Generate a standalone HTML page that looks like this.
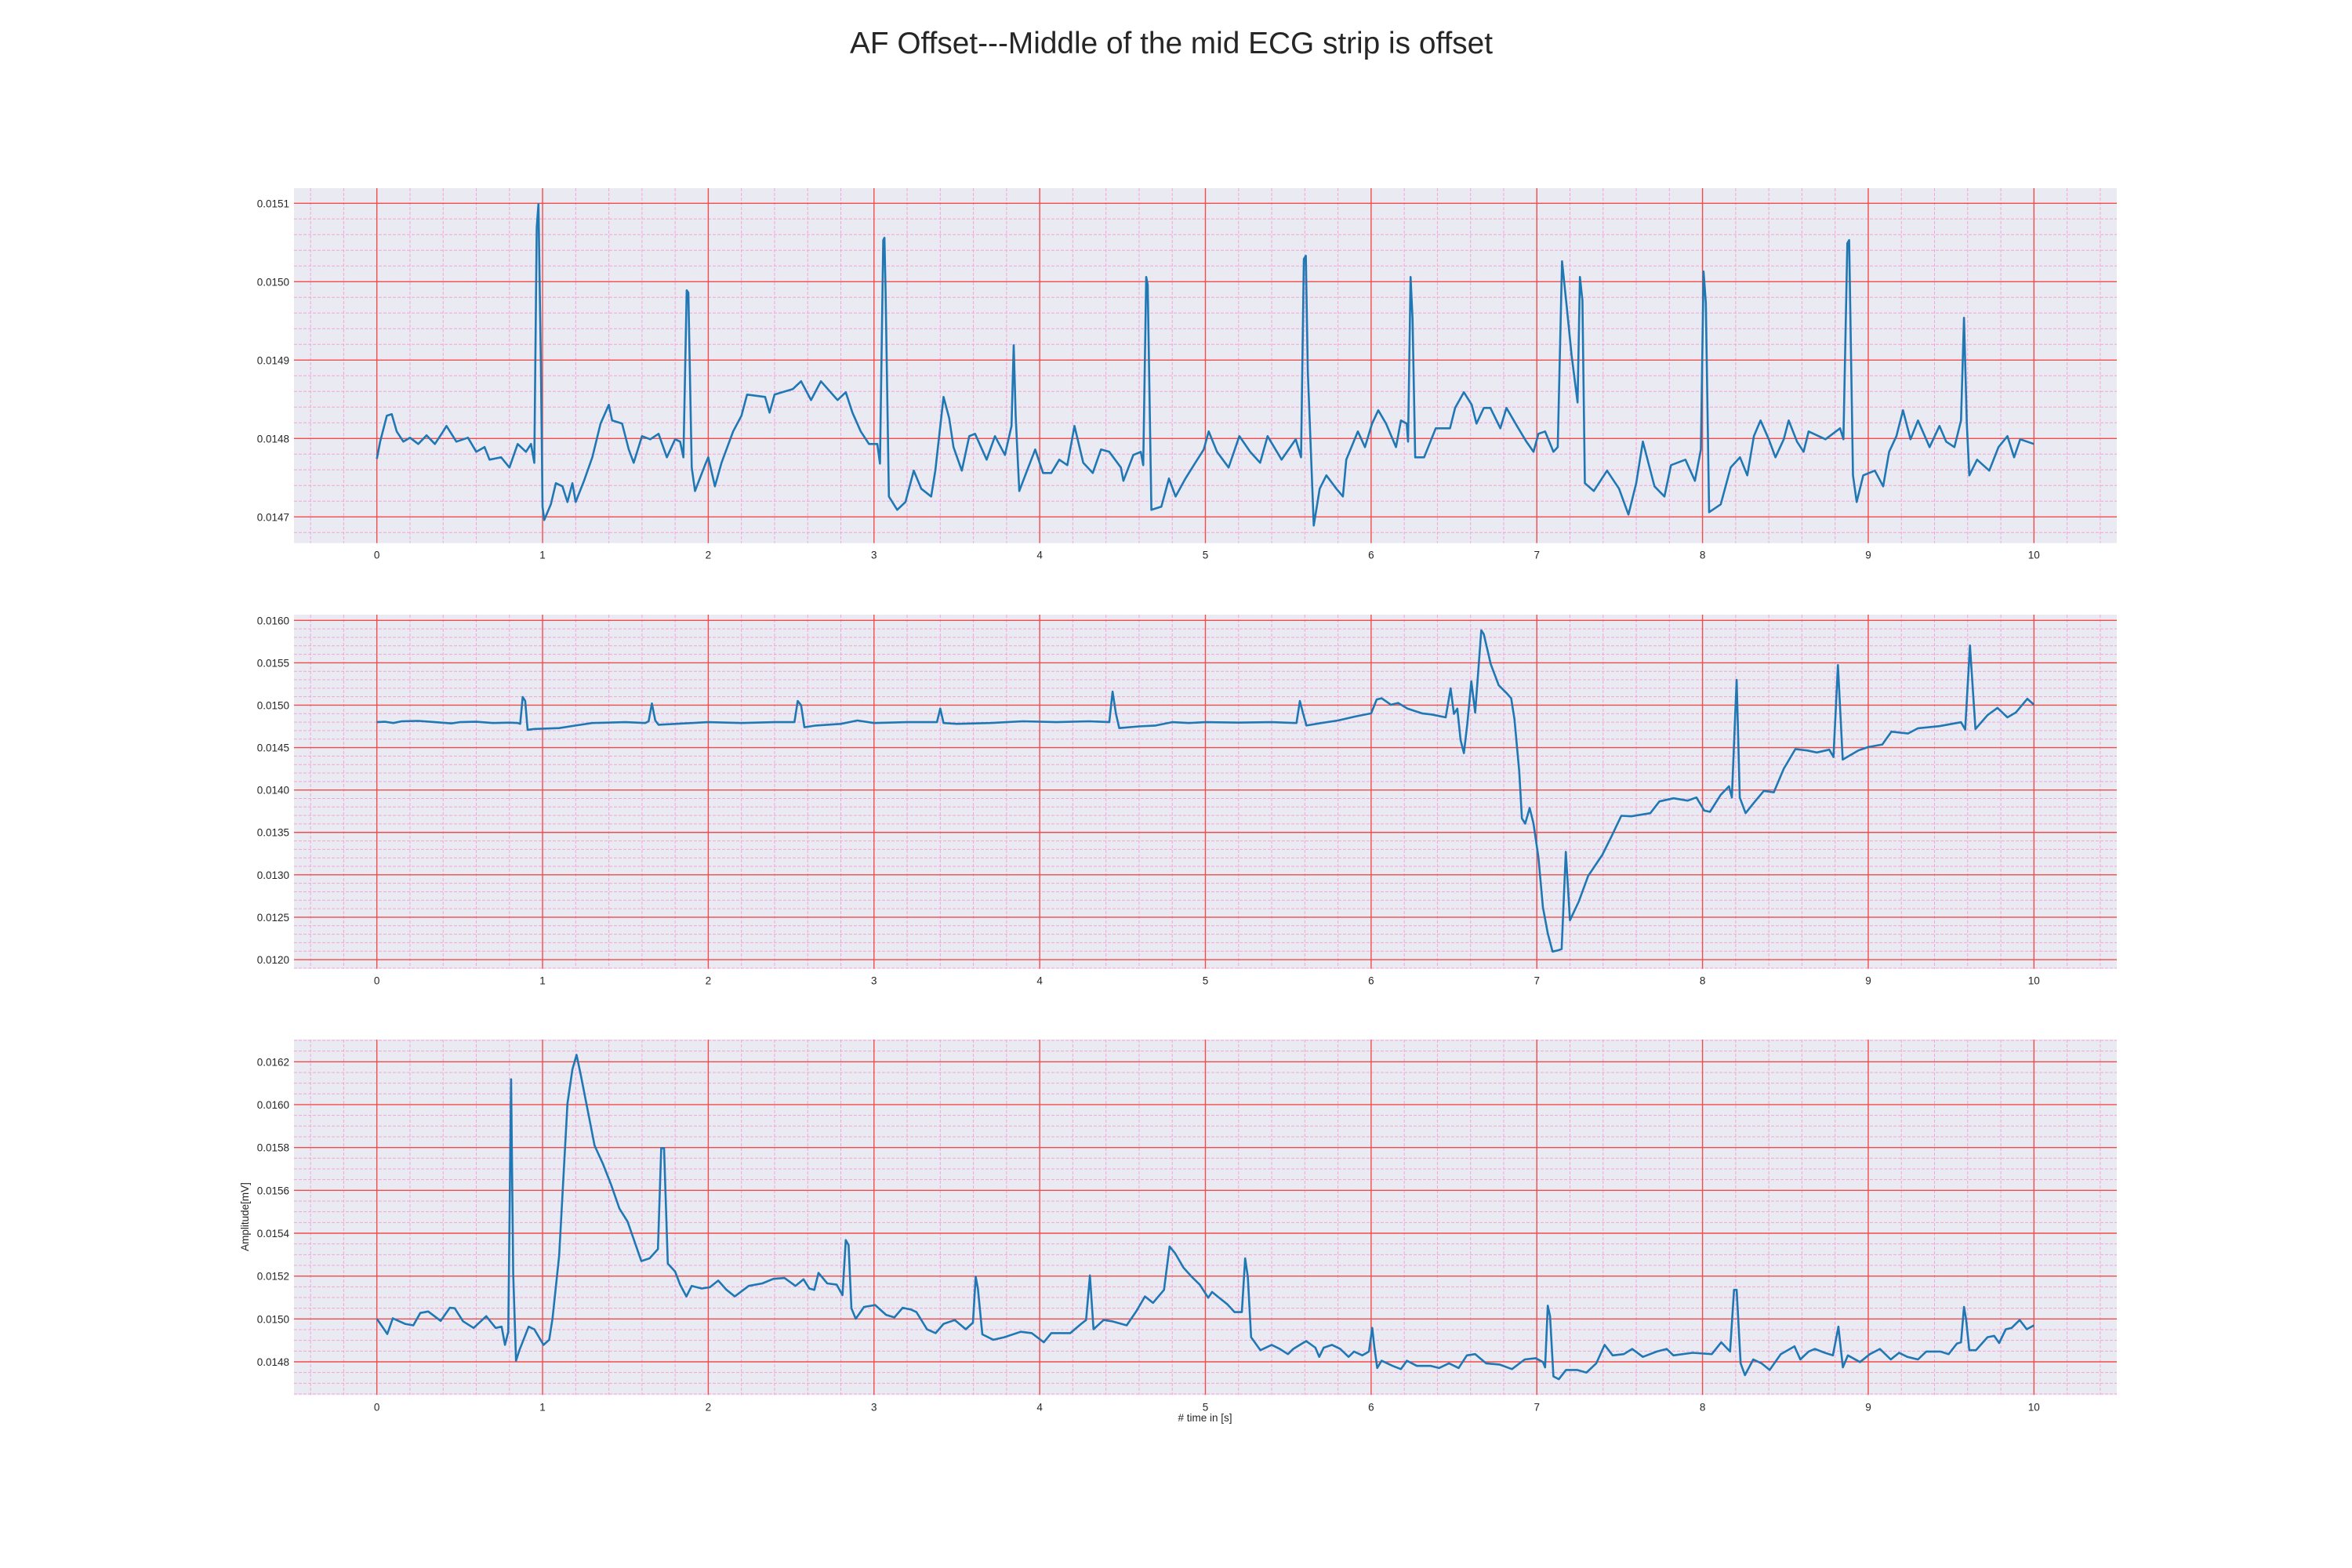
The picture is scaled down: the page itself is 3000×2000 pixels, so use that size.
<!DOCTYPE html>
<html><head><meta charset="utf-8"><title>AF Offset</title>
<style>
html,body{margin:0;padding:0;background:#fff;}
svg{display:block;font-family:"Liberation Sans",Arial,sans-serif;}
</style></head>
<body>
<svg id="fig" width="3000" height="2000" viewBox="0 0 3000 2000" xmlns="http://www.w3.org/2000/svg">
<rect x="0" y="0" width="3000" height="2000" fill="#ffffff"/>
<text x="1494" y="68" text-anchor="middle" font-size="38.8" fill="#262626">AF Offset---Middle of the mid ECG strip is offset</text>
<text x="1537" y="1813" text-anchor="middle" font-size="13.5" fill="#262626"># time in [s]</text>
<text x="0" y="0" transform="translate(317,1552) rotate(-90)" text-anchor="middle" font-size="13.5" fill="#262626">Amplitude[mV]</text>
</svg>
<script>
// ---- Data (time in s, amplitude in mV x 1e6) ----
const p1Time = [0,0.02,0.06,0.09,0.12,0.16,0.2,0.25,0.3,0.35,0.4,0.42,0.48,0.55,0.6,0.65,0.68,0.75,0.8,0.85,0.9,0.93,0.95,0.965,0.975,0.99,1.0,1.01,1.05,1.08,1.12,1.15,1.18,1.2,1.25,1.3,1.35,1.4,1.42,1.48,1.52,1.55,1.6,1.65,1.7,1.75,1.8,1.83,1.85,1.87,1.88,1.9,1.92,1.98,2.0,2.04,2.08,2.15,2.2,
2.234,2.343,2.37,2.40,2.51,2.56,2.62,2.68,2.78,2.83,2.87,2.92,2.97,3.02,3.036,3.056,3.063,3.07,3.09,3.14,3.19,3.24,3.285,3.345,3.37,3.42,3.454,3.48,3.53,3.575,3.61,3.68,3.73,3.79,3.83,3.843,3.855,3.877,3.913,3.973,4.02,4.07,4.118,4.167,4.21,4.263,4.32,4.37,4.42,4.49,4.505,4.565,4.61,4.625,4.643,4.652,4.674,4.734,4.78,4.82,4.88,4.93,4.99,5.02,5.07,5.14,5.205,5.27,5.33,5.375,5.46,5.545,5.577,5.594,5.606,5.618,5.654,
5.69,5.73,5.79,5.83,5.85,5.92,5.963,6.006,6.043,6.09,6.15,6.18,6.215,6.223,6.238,6.25,6.266,6.32,6.39,6.476,6.507,6.56,6.607,6.636,6.68,6.72,6.78,6.817,6.88,6.937,6.98,7.01,7.05,7.10,7.126,7.152,7.18,7.21,7.246,7.26,7.275,7.29,7.344,7.424,7.496,7.553,7.6,7.64,7.71,7.77,7.81,7.897,7.954,7.99,8.006,8.02,8.04,8.11,8.17,8.226,8.27,8.31,8.35,8.40,8.44,8.49,8.52,8.57,8.61,8.64,8.742,8.83,8.85,8.874,8.885,8.908,8.93,8.97,9.04,9.09,9.126,9.17,9.21,9.255,9.3,9.37,9.43,9.47,9.52,9.56,9.578,9.595,9.61,9.657,9.73,9.786,9.84,9.88,9.917,10.0];
const p1Amp = [14774,14796,14829,14831,14809,14796,14801,14793,14804,14793,14809,14816,14796,14801,14783,14789,14773,14776,14763,14793,14783,14793,14769,15069,15099,14896,14713,14696,14716,14743,14739,14719,14743,14719,14746,14776,14819,14843,14823,14819,14786,14769,14803,14799,14806,14776,14799,14796,14776,14989,14986,14763,14733,14766,14776,14739,14769,14809,14829,
14856,14853,14833,14856,14863,14873,14849,14873,14849,14859,14833,14809,14793,14793,14768,15053,15056,14986,14726,14709,14719,14759,14736,14726,14759,14853,14826,14789,14759,14803,14806,14773,14803,14779,14816,14919,14829,14733,14753,14786,14756,14756,14773,14766,14816,14769,14756,14786,14783,14763,14746,14779,14783,14766,15006,14996,14709,14713,14749,14726,14749,14766,14786,14809,14783,14763,14803,14783,14769,14803,14773,14799,14776,15029,15033,14886,14689,
14736,14753,14736,14726,14773,14809,14789,14819,14836,14819,14789,14823,14819,14796,15006,14953,14776,14776,14813,14813,14839,14859,14843,14819,14839,14839,14813,14839,14816,14796,14783,14806,14809,14783,14789,15026,14969,14906,14846,15006,14976,14743,14733,14759,14736,14703,14743,14796,14739,14726,14766,14773,14746,14786,15013,14973,14706,14716,14763,14776,14753,14803,14823,14799,14776,14799,14823,14796,14783,14809,14799,14813,14799,15049,15053,14753,14719,14753,14759,14739,14783,14803,14836,14799,14823,14789,14816,14796,14789,14823,14954,14819,14753,14773,14759,14789,14803,14776,14799,14793];

const p2Time = [0,0.05,0.1,0.15,0.25,0.35,0.45,0.5,0.6,0.7,0.8,0.85,0.865,0.88,0.895,0.91,0.95,1.1,1.2,1.3,1.5,1.62,1.64,1.66,1.68,1.7,1.8,2.0,2.2,2.4,2.52,2.54,2.56,2.58,2.65,2.8,2.9,3.0,3.2,3.38,3.4,3.42,3.5,3.7,3.9,4.1,4.3,4.42,4.44,4.46,4.48,4.6,4.7,4.8,4.9,5.0,5.2,5.4,5.55,5.57,5.59,5.61,5.7,5.8,
5.905,6.0,6.034,6.063,6.12,6.163,6.22,6.307,6.364,6.45,6.48,6.5,6.52,6.54,6.56,6.58,6.605,6.628,6.665,6.68,6.722,6.77,6.817,6.845,6.865,6.894,6.91,6.93,6.957,6.98,7.01,7.037,7.066,7.095,7.13,7.15,7.175,7.2,7.252,7.31,7.395,7.45,7.51,7.57,7.685,7.74,7.825,7.91,7.963,8.01,8.045,8.11,8.16,8.177,8.206,8.225,8.26,8.31,8.37,8.43,8.49,8.56,8.63,8.69,8.765,8.79,8.817,8.846,8.94,9.0,9.085,9.14,9.24,9.30,9.43,9.56,9.585,9.614,9.647,9.72,9.78,9.84,9.89,9.96,10.0];
const p2Amp = [14800,14805,14790,14810,14815,14800,14785,14800,14805,14790,14795,14790,14780,15097,15050,14710,14720,14730,14760,14790,14800,14790,14810,15020,14820,14770,14780,14800,14790,14800,14800,15050,15000,14740,14760,14780,14820,14790,14800,14800,14960,14790,14780,14790,14810,14800,14810,14800,15160,14900,14730,14750,14760,14800,14790,14800,14795,14800,14790,15050,14900,14760,14790,14820,
14867,14904,15067,15082,15005,15027,14959,14904,14891,14857,15199,14897,14959,14589,14435,14774,15282,14913,15883,15837,15483,15236,15144,15082,14836,14220,13666,13604,13789,13604,13204,12618,12310,12095,12110,12126,13271,12464,12680,12988,13234,13450,13696,13690,13727,13866,13903,13875,13912,13758,13743,13943,14044,13912,15298,13912,13727,13850,13989,13973,14251,14482,14466,14442,14476,14389,15473,14358,14466,14506,14537,14688,14666,14728,14753,14799,14713,15704,14719,14882,14968,14857,14913,15076,15005];

const p3Time = [0,0.063,0.096,0.17,0.22,0.262,0.31,0.385,0.44,0.47,0.52,0.584,0.66,0.717,0.753,0.773,0.793,0.81,0.823,0.84,0.86,0.916,0.95,1.006,1.04,1.06,1.1,1.15,1.18,1.205,1.23,1.28,1.314,1.364,1.414,1.464,1.513,1.563,1.596,1.646,1.696,1.716,1.733,1.756,1.8,1.83,1.868,1.9,1.96,2.01,2.06,2.11,2.16,2.244,2.326,2.393,2.46,2.526,2.575,2.61,2.64,2.665,2.718,2.775,2.81,2.83,2.847,2.864,2.89,2.94,3.007,3.073,3.123,3.173,3.223,3.256,3.32,3.372,3.42,3.488,3.554,3.597,3.614,3.627,3.654,3.72,3.787,3.886,3.952,4.025,4.07,4.185,4.25,4.28,4.303,4.325,4.386,4.436,4.525,4.585,4.635,4.684,4.75,4.784,4.817,4.867,4.917,4.966,
5.017,5.04,5.083,5.133,5.176,5.22,5.24,5.256,5.276,5.332,5.4,5.449,5.498,5.53,5.608,5.664,5.687,5.714,5.764,5.814,5.864,5.897,5.947,5.987,6.007,6.02,6.037,6.063,6.13,6.18,6.216,6.276,6.36,6.41,6.47,6.528,6.578,6.628,6.694,6.777,6.85,6.927,6.993,7.037,7.05,7.066,7.08,7.1,7.133,7.176,7.243,7.3,7.359,7.409,7.458,7.525,7.575,7.64,7.724,7.784,7.824,7.94,8.056,8.113,8.166,8.19,8.206,8.23,8.256,8.306,8.356,8.405,8.472,8.555,8.59,8.64,8.678,8.738,8.787,8.82,8.847,8.877,8.95,9.01,9.07,9.136,9.186,9.236,9.3,9.35,9.435,9.485,9.535,9.56,9.578,9.59,9.61,9.65,9.72,9.76,9.79,9.83,9.865,9.914,9.957,10.0];
const p3Amp = [15001,14930,15003,14977,14970,15028,15035,14991,15052,15050,14989,14958,15013,14958,14964,14879,14940,16118,15209,14805,14854,14964,14952,14879,14903,15001,15295,16005,16164,16232,16140,15944,15809,15724,15626,15515,15454,15344,15270,15283,15326,15797,15797,15258,15221,15160,15105,15154,15142,15148,15179,15136,15105,15154,15166,15187,15191,15154,15185,15142,15136,15215,15166,15160,15111,15368,15344,15050,15001,15056,15065,15019,15007,15052,15044,15032,14952,14934,14977,14995,14952,14983,15197,15142,14928,14903,14915,14940,14934,14891,14934,14934,14977,14995,15203,14952,14995,14989,14970,15038,15105,15075,15136,15338,15307,15240,15197,15160,
15099,15126,15099,15068,15032,15032,15283,15197,14915,14854,14879,14860,14836,14860,14897,14866,14823,14866,14879,14860,14823,14848,14830,14848,14958,14866,14771,14805,14781,14766,14805,14781,14781,14771,14793,14771,14830,14836,14793,14787,14766,14811,14817,14799,14774,15062,15013,14732,14719,14762,14762,14750,14793,14879,14830,14836,14860,14823,14848,14860,14830,14842,14836,14891,14848,15136,15136,14793,14738,14811,14793,14762,14836,14872,14811,14848,14860,14842,14830,14964,14774,14830,14799,14836,14860,14811,14842,14823,14811,14848,14848,14836,14885,14891,15056,15001,14854,14854,14915,14921,14888,14952,14958,14995,14952,14970];

const xTicks = [0,1,2,3,4,5,6,7,8,9,10];
const p1YTicks = ["0.0147","0.0148","0.0149","0.0150","0.0151"];
const p2YTicks = ["0.0120","0.0125","0.0130","0.0135","0.0140","0.0145","0.0150","0.0155","0.0160"];
const p3YTicks = ["0.0148","0.0150","0.0152","0.0154","0.0156","0.0158","0.0160","0.0162"];

const NS = "http://www.w3.org/2000/svg";
const svg = document.getElementById("fig");
const X0 = 375, X1 = 2700, XMIN = -0.5, XMAX = 10.5;
function xScale(t){ return X0 + (t - XMIN) / (XMAX - XMIN) * (X1 - X0); }

const panels = [
  {name:"top-strip", top:240, bottom:692.7, ymin:0.0146666, ymax:0.0151193, minorStep:0.00002, ticks:p1YTicks, time:p1Time, amp:p1Amp},
  {name:"mid-strip", top:784, bottom:1235.7, ymin:0.0118920, ymax:0.0160675, minorStep:0.0001, ticks:p2YTicks, time:p2Time, amp:p2Amp},
  {name:"bottom-strip", top:1326, bottom:1779.3, ymin:0.0146453, ymax:0.0163035, minorStep:0.00005, ticks:p3YTicks, time:p3Time, amp:p3Amp}
];

function mk(tag, attrs, parent){
  const e = document.createElementNS(NS, tag);
  for (const k in attrs) e.setAttribute(k, attrs[k]);
  parent.appendChild(e);
  return e;
}

panels.forEach(function(p){
  const g = mk("g", {}, svg);
  
  
  const yScale = function(v){ return p.bottom - (v - p.ymin) / (p.ymax - p.ymin) * (p.bottom - p.top); };
  const bg = mk("rect", {x:X0, y:p.top, width:X1-X0, height:p.bottom-p.top, fill:"#eaeaf2"}, g);
  
  
  const minor = mk("g", {stroke:"#f2a6d8", "stroke-width":"1", "stroke-dasharray":"4,2", fill:"none"}, g);
  
  
  for (let k = -2; k <= 52; k++){
    const t = k * 0.2;
    if (k % 5 === 0) continue;
    const x = xScale(t);
    if (x < X0 || x > X1) continue;
    mk("line", {x1:x, x2:x, y1:p.top, y2:p.bottom}, minor);
  }
  const nStart = Math.ceil(p.ymin / p.minorStep - 1e-6), nEnd = Math.floor(p.ymax / p.minorStep + 1e-6);
  for (let n = nStart; n <= nEnd; n++){
    const y = yScale(n * p.minorStep);
    mk("line", {x1:X0, x2:X1, y1:y, y2:y}, minor);
  }
  const major = mk("g", {stroke:"#f24c4c", "stroke-width":"1.4", fill:"none"}, g);
  
  
  xTicks.forEach(function(t){
    const x = xScale(t);
    mk("line", {x1:x, x2:x, y1:p.top, y2:p.bottom}, major);
  });
  p.ticks.forEach(function(lbl){
    const y = yScale(parseFloat(lbl));
    mk("line", {x1:X0, x2:X1, y1:y, y2:y}, major);
  });
  xTicks.forEach(function(t){
    const tx = mk("text", {x:xScale(t), y:p.bottom + 20, "text-anchor":"middle", "font-size":"13.5", fill:"#262626"}, g);
    
    
    tx.textContent = String(t);
  });
  p.ticks.forEach(function(lbl){
    const ty = mk("text", {x:369, y:yScale(parseFloat(lbl)) + 5, "text-anchor":"end", "font-size":"13.5", fill:"#262626"}, g);
    
    
    ty.textContent = lbl;
  });
  let d = "";
  for (let i = 0; i < p.time.length; i++){
    const x = xScale(p.time[i]), y = yScale(p.amp[i] / 1e6);
    d += (i ? "L" : "M") + x.toFixed(1) + "," + y.toFixed(1);
  }
  const path = mk("path", {d:d, fill:"none", stroke:"#1f77b4", "stroke-width":"2.6", "stroke-linejoin":"round"}, g);
  
  
});
</script>
</body></html>
